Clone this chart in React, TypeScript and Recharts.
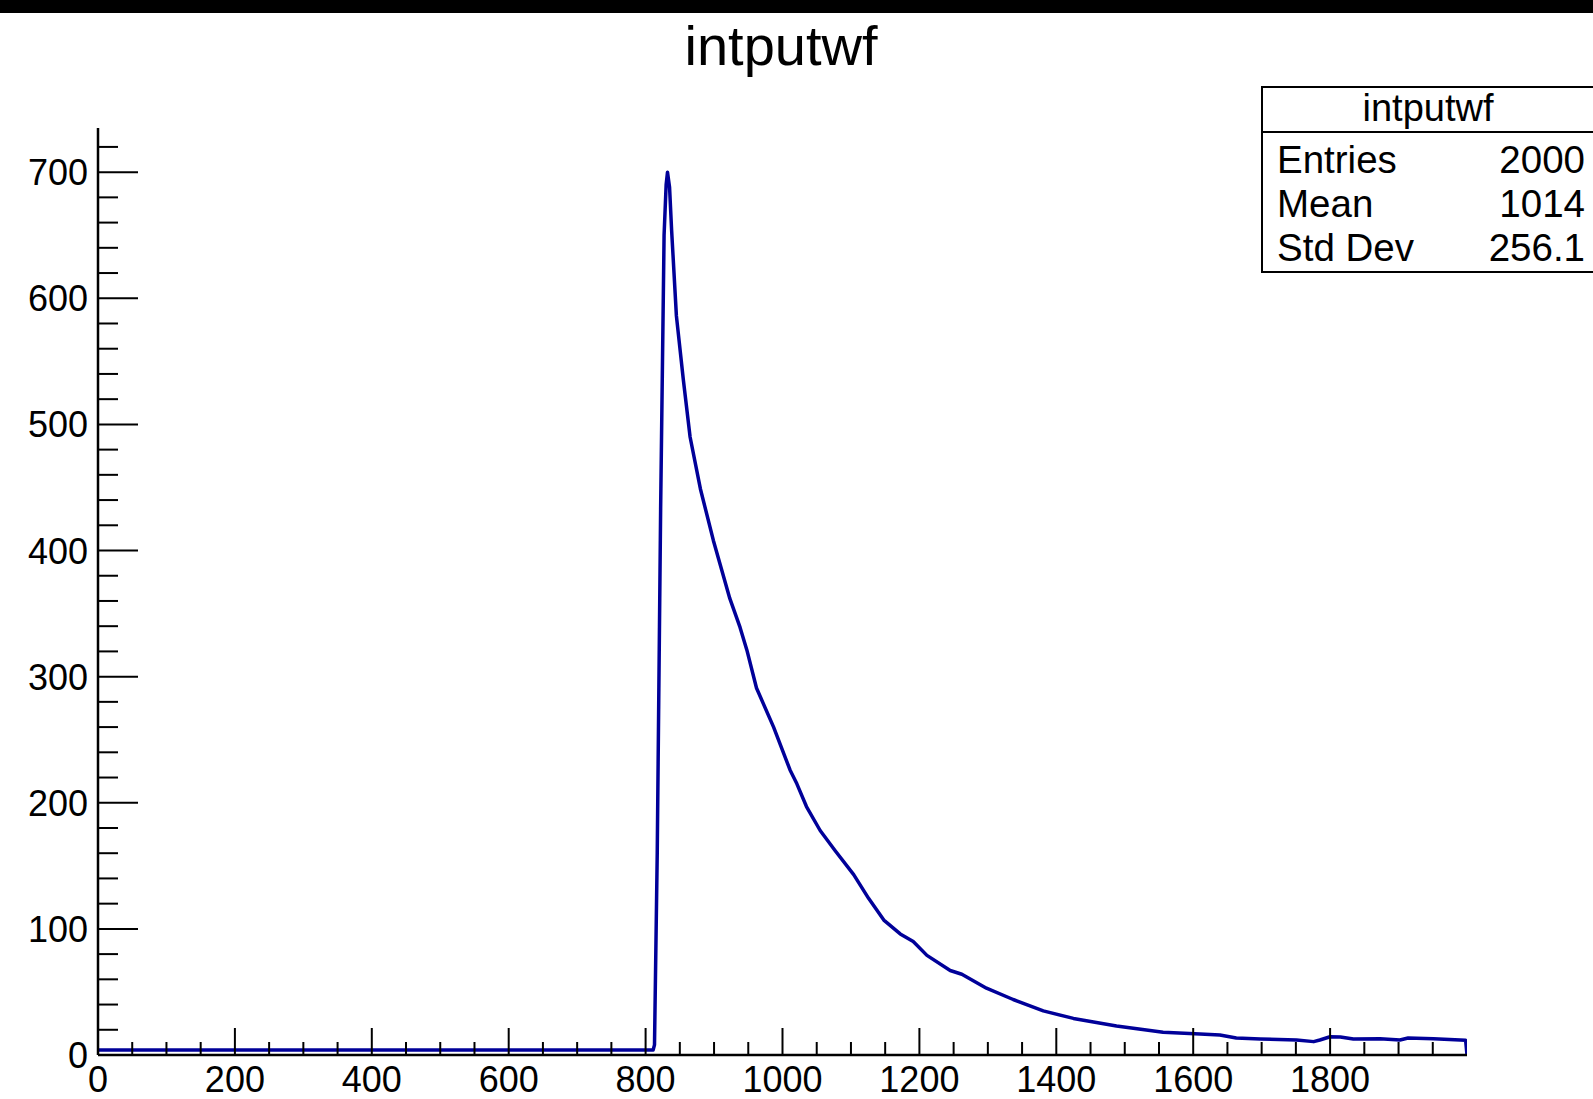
import React from 'react';
import { LineChart, Line, XAxis, YAxis } from 'recharts';

// waveform samples (bin position, amplitude)
const sampleX = [
  0, 811, 813, 817, 822, 827, 830, 832, 835, 838, 845, 855, 865, 880, 899,
  923, 938, 948, 962, 987, 1011, 1021, 1035, 1055, 1077, 1104, 1126, 1148,
  1172, 1191, 1211, 1245, 1262, 1298, 1337, 1381, 1425, 1488, 1556, 1610,
  1639, 1663, 1698, 1751, 1776, 1785, 1800, 1815, 1834, 1873, 1902, 1914,
  1951, 1998, 2000,
];
const sampleY = [
  4, 4, 8, 160, 435, 650, 690, 700, 688, 654, 586, 536, 490, 449, 408,
  362, 339, 321, 291, 260, 226, 215, 197, 178, 162, 143, 124, 107,
  96, 90, 79, 67, 64, 53, 44, 35, 29, 23, 18, 16.6,
  15.8, 13.5, 12.7, 11.9, 10.6, 11.9, 14.5, 14.3, 12.7, 12.9, 11.9, 13.5,
  12.9, 11.6, 0,
];

const xMajorTicks = [0, 200, 400, 600, 800, 1000, 1200, 1400, 1600, 1800];
const xAllTicks = [
  0, 50, 100, 150, 200, 250, 300, 350, 400, 450, 500, 550, 600, 650, 700, 750,
  800, 850, 900, 950, 1000, 1050, 1100, 1150, 1200, 1250, 1300, 1350, 1400,
  1450, 1500, 1550, 1600, 1650, 1700, 1750, 1800, 1850, 1900, 1950,
];
const yMajorTicks = [0, 100, 200, 300, 400, 500, 600, 700];
const yAllTicks = [
  0, 20, 40, 60, 80, 100, 120, 140, 160, 180, 200, 220, 240, 260, 280, 300,
  320, 340, 360, 380, 400, 420, 440, 460, 480, 500, 520, 540, 560, 580, 600,
  620, 640, 660, 680, 700, 720,
];

const statsTitle = 'intputwf';
const statsLabels = ['Entries', 'Mean', 'Std Dev'];
const statsValues = ['2000', '1014', '256.1'];

const data = sampleX.map((x, i) => ({ x, y: sampleY[i] }));

const FONT = '"Liberation Sans", Arial, Helvetica, sans-serif';

const XTick = (props: any) => {
  const { x, y, payload } = props;
  const major = xMajorTicks.includes(payload.value);
  return (
    <g>
      <line x1={x} x2={x} y1={y} y2={y - (major ? 27 : 13)} stroke="#000" strokeWidth={2} />
      {major && (
        <text x={x} y={y + 37} textAnchor="middle" fontSize={36} fontFamily={FONT} fill="#000">
          {payload.value}
        </text>
      )}
    </g>
  );
};

const YTick = (props: any) => {
  const { x, y, payload } = props;
  const major = yMajorTicks.includes(payload.value);
  return (
    <g>
      <line x1={x} x2={x + (major ? 40 : 20)} y1={y} y2={y} stroke="#000" strokeWidth={2} />
      {major && (
        <text x={x - 10} y={y + 13} textAnchor="end" fontSize={36} fontFamily={FONT} fill="#000">
          {payload.value}
        </text>
      )}
    </g>
  );
};

export default function App() {
  return (
    <div style={{ position: 'absolute', left: 0, top: 0, width: 1593, height: 1099, background: '#fff', overflow: 'hidden' }}>
      <div style={{ position: 'absolute', left: 0, top: 0, width: 1593, height: 13, background: '#000' }} />
      <div style={{ position: 'absolute', left: 0, top: 0 }}>
        <LineChart width={1593} height={1099} data={data} margin={{ top: 128, right: 126, bottom: 0, left: 0 }}>
          <XAxis
            dataKey="x"
            type="number"
            domain={[0, 2000]}
            ticks={xAllTicks}
            interval={0}
            tickSize={0}
            tickMargin={0}
            height={44}
            tick={<XTick />}
            axisLine={{ stroke: '#000', strokeWidth: 2.5 }}
            allowDataOverflow
          />
          <XAxis xAxisId="top" orientation="top" type="number" domain={[0, 2000]} height={0} tick={false} tickLine={false} axisLine={{ stroke: '#000', strokeWidth: 2 }} />
          <YAxis
            type="number"
            domain={[0, 735]}
            ticks={yAllTicks}
            interval={0}
            tickSize={0}
            tickMargin={0}
            width={98}
            tick={<YTick />}
            axisLine={{ stroke: '#000', strokeWidth: 2.5 }}
            allowDataOverflow
          />
          <YAxis yAxisId="right" orientation="right" type="number" domain={[0, 735]} width={0} tick={false} tickLine={false} axisLine={{ stroke: '#000', strokeWidth: 2 }} />
          <Line
            type="linear"
            dataKey="y"
            stroke="#000099"
            strokeWidth={3.5}
            strokeLinejoin="round"
            dot={false}
            isAnimationActive={false}
          />
        </LineChart>
      </div>
      <svg width={1593} height={1099} style={{ position: 'absolute', left: 0, top: 0, pointerEvents: 'none' }}>
        <text x={781} y={65} textAnchor="middle" fontSize={56} fontFamily={FONT} fill="#000">
          intputwf
        </text>
        <rect x={1262} y={87} width={345} height={185} fill="#fff" stroke="#000" strokeWidth={2} />
        <line x1={1262} x2={1593} y1={132} y2={132} stroke="#000" strokeWidth={2} />
        <text x={1428} y={121} textAnchor="middle" fontSize={38} fontFamily={FONT} fill="#000">
          {statsTitle}
        </text>
        {statsLabels.map((label, i) => (
          <g key={label}>
            <text x={1277} y={173 + i * 44} fontSize={38.5} fontFamily={FONT} fill="#000">
              {label}
            </text>
            <text x={1585} y={173 + i * 44} textAnchor="end" fontSize={38.5} fontFamily={FONT} fill="#000">
              {statsValues[i]}
            </text>
          </g>
        ))}
      </svg>
    </div>
  );
}
